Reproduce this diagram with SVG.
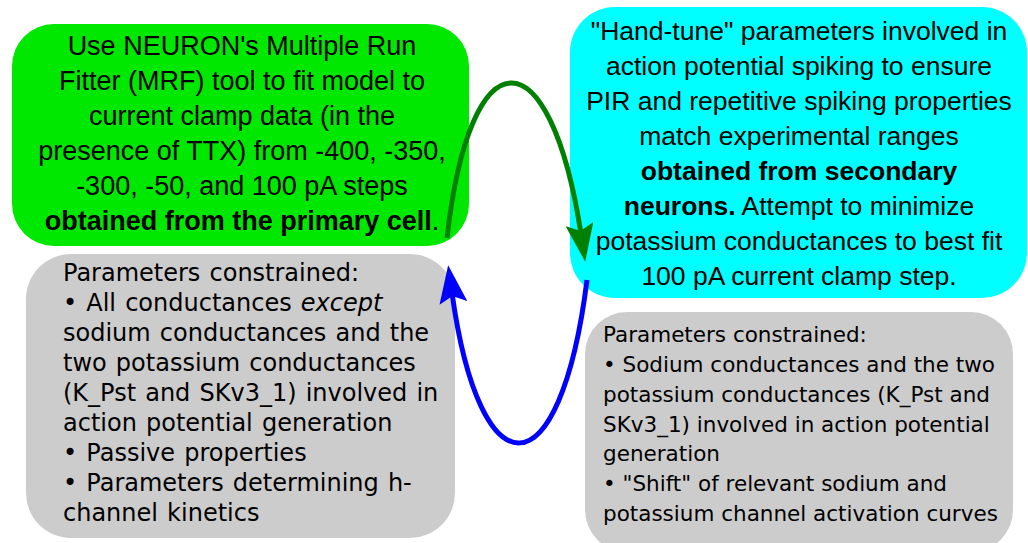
<svg xmlns="http://www.w3.org/2000/svg" width="1028" height="543" viewBox="0 0 1028 543">
<style>
.main{font-family:"Liberation Sans",Arial,sans-serif;fill:#000;text-anchor:middle}
.g{font-size:27px}
.c{font-size:26.5px}
.b{font-weight:bold}
.gl{font-family:"DejaVu Sans",Verdana,sans-serif;font-size:24px;word-spacing:1.5px;fill:#000}
.gr{font-family:"DejaVu Sans",Tahoma,sans-serif;font-size:21.5px;fill:#000}
.conn{fill:none;stroke-width:5}
</style>
<defs>
<marker id="ahG" viewBox="0 0 38 28" refX="10" refY="14" markerWidth="38" markerHeight="28" markerUnits="userSpaceOnUse" orient="auto">
<path d="M0,0 L38,14 L0,28 L7,14 z" fill="#008000"/>
</marker>
<marker id="ahB" viewBox="0 0 38 28" refX="10" refY="14" markerWidth="38" markerHeight="28" markerUnits="userSpaceOnUse" orient="auto">
<path d="M0,0 L38,14 L0,28 L7,14 z" fill="#0000ff"/>
</marker>
</defs>
<rect width="1028" height="543" fill="#fff"/>
<g id="node-mrf">
<rect x="12" y="24" width="457" height="222" rx="42" ry="42" fill="#00e800"/>
<text class="main g" x="242" y="55">Use NEURON's Multiple Run</text>
<text class="main g" x="242" y="90">Fitter (MRF) tool to fit model to</text>
<text class="main g" x="242" y="125">current clamp data (in the</text>
<text class="main g" x="242" y="160">presence of TTX) from -400, -350,</text>
<text class="main g" x="242" y="195">-300, -50, and 100 pA steps</text>
<text class="main g" x="242" y="230"><tspan class="b">obtained from the primary cell</tspan>.</text>
</g>
<g id="node-handtune">
<rect x="570" y="7" width="457" height="291" rx="45" ry="45" fill="#00ffff"/>
<text class="main c" x="799" y="40">"Hand-tune" parameters involved in</text>
<text class="main c" x="799" y="75">action potential spiking to ensure</text>
<text class="main c" x="799" y="110">PIR and repetitive spiking properties</text>
<text class="main c" x="799" y="145">match experimental ranges</text>
<text class="main c b" x="799" y="180">obtained from secondary</text>
<text class="main c" x="799" y="215"><tspan class="b">neurons.</tspan> Attempt to minimize</text>
<text class="main c" x="799" y="250">potassium conductances to best fit</text>
<text class="main c" x="799" y="285">100 pA current clamp step.</text>
</g>
<g id="node-constraints-left">
<rect x="26" y="254" width="429" height="284" rx="45" ry="45" fill="#cccccc"/>
<text class="gl" x="63" y="281">Parameters constrained:</text>
<text class="gl" x="63" y="311">• All conductances <tspan font-style="italic">except</tspan></text>
<text class="gl" x="63" y="341">sodium conductances and the</text>
<text class="gl" x="63" y="371">two potassium conductances</text>
<text class="gl" x="63" y="401">(K_Pst and SKv3_1) involved in</text>
<text class="gl" x="63" y="431">action potential generation</text>
<text class="gl" x="63" y="461">• Passive properties</text>
<text class="gl" x="63" y="491">• Parameters determining h-</text>
<text class="gl" x="63" y="521">channel kinetics</text>
</g>
<g id="node-constraints-right">
<rect x="585" y="312" width="428" height="240" rx="42" ry="42" fill="#cccccc"/>
<text class="gr" x="603" y="342">Parameters constrained:</text>
<text class="gr" x="603" y="372">• Sodium conductances and the two</text>
<text class="gr" x="603" y="402">potassium conductances (K_Pst and</text>
<text class="gr" x="603" y="432">SKv3_1) involved in action potential</text>
<text class="gr" x="603" y="461">generation</text>
<text class="gr" x="603" y="491">• "Shift" of relevant sodium and</text>
<text class="gr" x="603" y="521">potassium channel activation curves</text>
</g>
<g id="connectors">
<path class="conn" d="M447,238 C470,32 550,32 581,234" stroke="#008000" marker-end="url(#ahG)"/>
<path class="conn" d="M587,280 C560,495 480,495 452,293" stroke="#0000ff" marker-end="url(#ahB)"/>
</g>
</svg>
